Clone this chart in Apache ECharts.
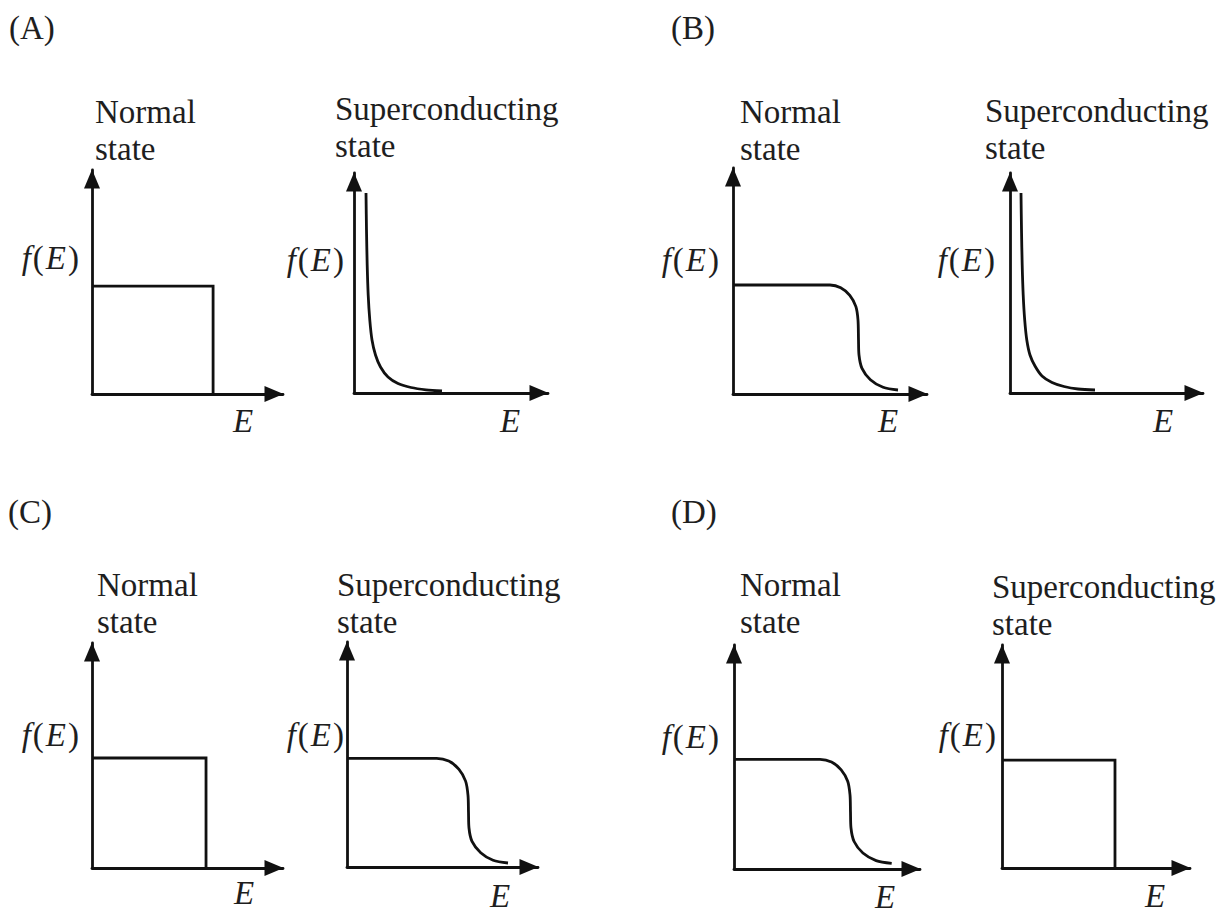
<!DOCTYPE html>
<html>
<head>
<meta charset="utf-8">
<script src="https://cdn.jsdelivr.net/npm/echarts@6/dist/echarts.min.js"></script>
<style>html,body{margin:0;padding:0;background:#fff;}#c{width:1224px;height:914px;}</style>
</head>
<body>
<div id="c"></div>
<script>
// ---- Data (E, f(E)), in axis units 0..10 ----
const panelLabels = ['(A)', '(B)', '(C)', '(D)'];
const headerTexts = ['Normal\nstate', 'Superconducting\nstate'];
const xName = 'E';

const stepA_N = [[0, 4.82], [6.34, 4.82], [6.34, 0]];
const hypA_S = [[0.619, 9.091], [0.644, 7.409], [0.680, 5.818], [0.732, 4.455], [0.814, 3.318], [0.928, 2.409], [1.108, 1.727], [1.366, 1.182], [1.753, 0.727], [2.268, 0.432], [2.938, 0.250], [3.711, 0.145], [4.536, 0.091]];
const fermiB_N = [[0, 4.823], [5.000, 4.823], [5.552, 4.704], [6.021, 4.367], [6.335, 3.867], [6.443, 3.274], [6.469, 2.389], [6.495, 1.726], [6.649, 1.133], [7.082, 0.633], [7.737, 0.296], [8.505, 0.177]];
const hypB_S = [[0.570, 9.091], [0.596, 7.409], [0.632, 5.818], [0.684, 4.455], [0.762, 3.318], [0.870, 2.409], [1.036, 1.727], [1.295, 1.227], [1.658, 0.773], [2.176, 0.477], [2.798, 0.295], [3.523, 0.182], [4.404, 0.136]];
const stepC_N = [[0, 4.89], [5.97, 4.89], [5.97, 0]];
const fermiC_S = [[0, 4.831], [4.696, 4.831], [5.325, 4.707], [5.853, 4.351], [6.209, 3.818], [6.335, 3.187], [6.361, 2.444], [6.387, 1.733], [6.545, 1.138], [7.000, 0.636], [7.649, 0.298], [8.429, 0.178]];
const fermiD_N = [[0, 4.897], [4.624, 4.897], [5.242, 4.777], [5.763, 4.429], [6.113, 3.915], [6.237, 3.304], [6.263, 2.545], [6.290, 1.830], [6.457, 1.228], [6.930, 0.714], [7.640, 0.375], [8.478, 0.254]];
const stepD_S = [[0, 4.84], [6.01, 4.84], [6.01, 0]];

const curves = [stepA_N, hypA_S, fermiB_N, hypB_S, stepC_N, fermiC_S, fermiD_N, stepD_S];
const smoothFlags = [false, true, true, true, false, true, true, false];

// ---- Layout (pixels) ----
// [axisX, arrowTipX, arrowTipY, axisY]
const gridPx = [
  [92, 283, 170, 394], [354, 548, 173, 393], [733, 927, 168, 394], [1010, 1203, 173, 393],
  [92, 283, 643, 868], [347, 538, 642, 867], [734, 920, 645, 869], [1002, 1190, 645, 868]
];
// header text [left, firstLineCenterY]
const headerPos = [[95, 111], [335, 108], [740, 111], [985, 110], [97, 584], [337, 584], [740, 584], [992, 586]];
// f(E) label [rightX, centerY]
const yNamePos = [[79, 258], [344, 260], [719, 260], [995, 260], [79, 735], [344, 735], [719, 737], [996, 735]];
// E label [centerX, centerY]
const xNamePos = [[243, 421], [510, 421], [888, 421], [1163, 421], [244, 893], [500, 896], [885, 897], [1155, 896]];
// panel label [left, centerY]
const panelPos = [[9, 28], [671, 28], [8, 512], [671, 512]];

const FONT = '"Liberation Serif", "Times New Roman", serif';
const FS = 33;
const INK = '#111';
const TXT = '#1e1e1e';
const LW = 2.8;

const grids = [], xAxes = [], yAxes = [], series = [], graphics = [];
gridPx.forEach((g, i) => {
  const [ax, tx, ty, ay] = g;
  grids.push({ left: ax, top: ty, width: tx - ax, height: ay - ty, containLabel: false });
  const axisCommon = {
    type: 'value', min: 0, max: 10, gridIndex: i,
    axisLabel: { show: false }, axisTick: { show: false }, splitLine: { show: false },
    axisLine: { show: true, lineStyle: { color: INK, width: LW }, symbol: ['none', 'triangle'], symbolSize: [16, 19], symbolOffset: [0, -9] }
  };
  xAxes.push(Object.assign({}, axisCommon));
  yAxes.push(Object.assign({}, axisCommon));
  series.push({
    type: 'line', xAxisIndex: i, yAxisIndex: i, data: curves[i],
    showSymbol: false, symbol: 'none', clip: false,
    smooth: smoothFlags[i] ? 0.3 : false,
    lineStyle: { color: INK, width: LW, join: 'miter' }, silent: true, animation: false
  });
  const hdr = headerTexts[i % 2];
  graphics.push({
    type: 'text', left: headerPos[i][0], top: headerPos[i][1] - 18,
    style: { text: hdr, font: FS + 'px ' + FONT, fill: TXT, lineHeight: 37, align: 'left', verticalAlign: 'top' }
  });
  graphics.push({
    type: 'text', x: yNamePos[i][0], y: yNamePos[i][1],
    style: {
      text: '{i|f}(' + '{i|E})', fill: TXT, align: 'right', verticalAlign: 'middle',
      font: FS + 'px ' + FONT,
      rich: { i: { fontStyle: 'italic', fontFamily: FONT, fontSize: FS, fill: TXT, padding: [0, 2, 0, 2] } }
    }
  });
  graphics.push({
    type: 'text', x: xNamePos[i][0], y: xNamePos[i][1],
    style: { text: xName, font: 'italic ' + FS + 'px ' + FONT, fill: TXT, align: 'center', verticalAlign: 'middle' }
  });
});
panelLabels.forEach((t, i) => {
  graphics.push({
    type: 'text', x: panelPos[i][0], y: panelPos[i][1],
    style: { text: t, font: FS + 'px ' + FONT, fill: TXT, align: 'left', verticalAlign: 'middle' }
  });
});

const chart = echarts.init(document.getElementById('c'), null, { renderer: 'svg' });
chart.setOption({
  backgroundColor: '#fff',
  animation: false,
  grid: grids, xAxis: xAxes, yAxis: yAxes, series: series,
  graphic: graphics
});
</script>
</body>
</html>
